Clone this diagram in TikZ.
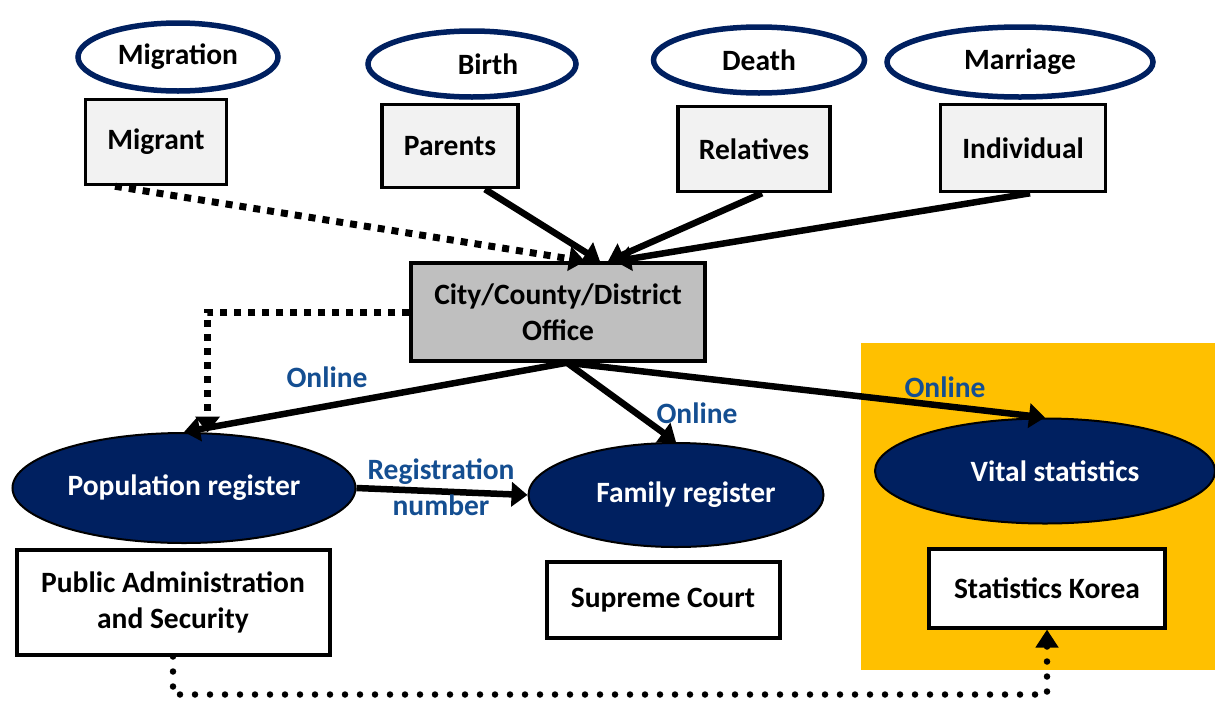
\documentclass[tikz,border=0pt]{standalone}
\usepackage{fontspec}
\setmainfont{Carlito}
\usetikzlibrary{shapes.geometric,arrows.meta,calc}
\definecolor{navy}{HTML}{002060}
\definecolor{linkblue}{RGB}{20,78,145}
\definecolor{statyellow}{HTML}{FFC000}
\definecolor{paper}{HTML}{F2F2F2}
\definecolor{officegray}{HTML}{BFBFBF}

\begin{document}
\begin{tikzpicture}[x=1pt,y=-1pt,font=\bfseries\fontsize{29.5}{36}\selectfont]
\tikzstyle{event}=[ellipse,draw=navy,line width=5.5pt,fill=white,inner sep=0pt]
\tikzstyle{informant}=[rectangle,draw,line width=3.5pt,fill=paper,inner sep=0pt]
\tikzstyle{office}=[rectangle,draw,line width=3.5pt,fill=officegray,align=center,minimum width=294pt,minimum height=98pt]
\tikzstyle{register}=[ellipse,draw,line width=2pt,fill=navy,text=white,inner sep=0pt]
\tikzstyle{agency}=[rectangle,draw,line width=4pt,fill=white,align=center,inner sep=0pt]
\tikzstyle{tag}=[text=linkblue,align=center]
\tikzstyle{flow}=[line width=6.5pt,-{Triangle[length=16pt,width=24pt]}]
\tikzstyle{feed}=[line width=7pt,dash pattern=on 7pt off 7pt,-{Triangle[length=16pt,width=24pt]}]
\tikzstyle{report}=[line width=6.5pt,line cap=round,dash pattern=on 0pt off 15pt,-{Triangle[length=18pt,width=22pt]}]
\useasboundingbox (0,0) rectangle (1215,702);
\fill [statyellow] (861,343) rectangle (1215,670);

\node at(178,57) (Migration) [event,minimum width=200pt,minimum height=68pt]{Migration};
\node at(472,64) (Birth) [event,minimum width=208pt,minimum height=66pt]{\hspace*{32pt}Birth};
\node at(759,60) (Death) [event,minimum width=211pt,minimum height=66pt]{Death};
\node at(1020,62) (Marriage) [event,minimum width=266pt,minimum height=70pt]{Marriage};
\node at(156,142) (Migrant) [informant,minimum width=141pt,minimum height=85pt]{Migrant};
\node at(450,146) (Parents) [informant,minimum width=136pt,minimum height=83pt]{Parents};
\node at(754,149) (Relatives) [informant,minimum width=152pt,minimum height=85pt]{Relatives};
\node at(1023,148) (Individual) [informant,minimum width=165pt,minimum height=87pt]{Individual};
\node at(558,312) (Office) [office]{City/County/District\\Office};
\node at(184,488) (Population) [register,minimum width=343pt,minimum height=110pt]{Population register};
\node at(676,495) (Family) [register,minimum width=295pt,minimum height=104pt]{\hspace*{20pt}Family register};
\node at(1045,471) (Vital) [register,minimum width=340pt,minimum height=105pt]{\hspace*{20pt}Vital statistics};
\node at(173,602) (Admin) [agency,minimum width=313pt,minimum height=105pt]{Public Administration\\and Security};
\node at(663,600) (Court) [agency,minimum width=233pt,minimum height=76pt]{Supreme Court};
\node at(1047,588) (Korea) [agency,minimum width=236pt,minimum height=79pt]{Statistics Korea};

\draw [feed] ($(Migrant.south)+(-41,0)$) -- ($(Office.north)+(27,0)$);
\draw ($(Parents.south)+(35,0)$) edge [flow] ($(Office.north)+(42,0)$);
\draw ($(Relatives.south)+(8,0)$) edge [flow] ($(Office.north)+(50,0)$);
\draw ($(Individual.south)+(7,0)$) edge [flow] ($(Office.north)+(57,0)$);
\draw [feed] (Office.west) -| (Population.67);
\draw ($(Office.south)+(9,0)$) edge [flow] (Population.north)
	edge [flow] (Family.north)
	edge [flow] (Vital.north);
\draw (Population.east) edge [flow] (Family.west);
\draw [report] (Admin.south) -- ++(0,38) -| (Korea.south);

\node at(327,377) (OnlinePop) [tag]{Online};
\node at(697,413) (OnlineFam) [tag]{Online};
\node at(945,387) (OnlineVit) [tag]{Online};
\node at(441,487) (RegNo) [tag]{Registration\\number};
\end{tikzpicture}
\end{document}
